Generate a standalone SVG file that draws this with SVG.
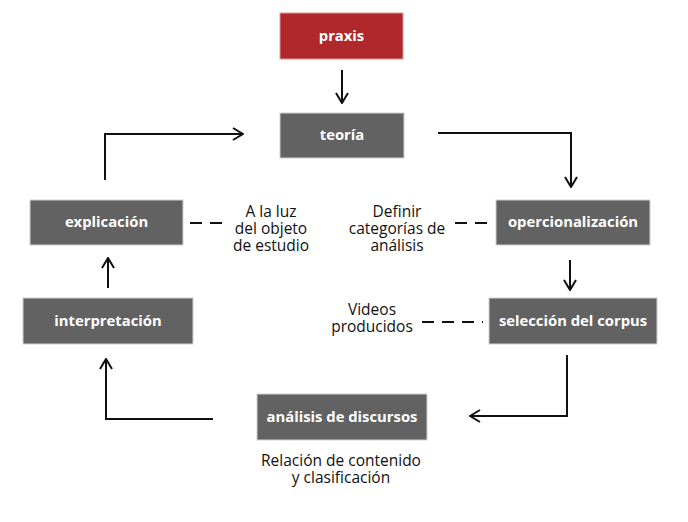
<svg xmlns="http://www.w3.org/2000/svg" width="688" height="522" viewBox="0 0 688 522">
<style>
.box{fill:#626262;stroke:#d0d0d0;stroke-width:1}
.red{fill:#b0282c;stroke:#d99;stroke-width:1}
.lbl{font-family:"Open Sans","Liberation Sans",sans-serif;font-size:14.8px;font-weight:bold;fill:#fff;text-anchor:middle}
.note{font-family:"Open Sans","Liberation Sans",sans-serif;font-size:15.5px;fill:#111;text-anchor:middle}
.ln{fill:none;stroke:#111;stroke-width:2}
.dash{fill:none;stroke:#111;stroke-width:2;stroke-dasharray:12,8}
</style>
<defs>
<marker id="ah" viewBox="0 0 12 14" refX="11" refY="7" markerWidth="12" markerHeight="14" markerUnits="userSpaceOnUse" orient="auto">
<path d="M1,1 L11,7 L1,13" fill="none" stroke="#111" stroke-width="2"/>
</marker>
</defs>
<g id="praxis"><rect class="red" x="280" y="13" width="123" height="46"/><text class="lbl" x="341.5" y="41">praxis</text></g>
<g id="teoria"><rect class="box" x="280" y="113" width="124" height="45"/><text class="lbl" x="342" y="140">teoría</text></g>
<g id="explicacion"><rect class="box" x="30" y="200" width="153" height="45"/><text class="lbl" x="106.5" y="227">explicación</text></g>
<g id="interpretacion"><rect class="box" x="23" y="298" width="170" height="46"/><text class="lbl" x="108" y="326">interpretación</text></g>
<g id="opercionalizacion"><rect class="box" x="496" y="200" width="154" height="45"/><text class="lbl" x="573" y="227">opercionalización</text></g>
<g id="seleccion"><rect class="box" x="489" y="298" width="168" height="46"/><text class="lbl" x="573" y="326">selección del corpus</text></g>
<g id="analisis"><rect class="box" x="257" y="394" width="170" height="46"/><text class="lbl" x="342" y="422">análisis de discursos</text></g>
<g id="notes">
<text class="note"><tspan x="271" y="217">A la luz</tspan><tspan x="271" y="234">del objeto</tspan><tspan x="271" y="251">de estudio</tspan></text>
<text class="note"><tspan x="397" y="217">Definir</tspan><tspan x="397" y="234">categorías de</tspan><tspan x="397" y="251">análisis</tspan></text>
<text class="note"><tspan x="372" y="315">Videos</tspan><tspan x="372" y="332">producidos</tspan></text>
<text class="note"><tspan x="341" y="466">Relación de contenido</tspan><tspan x="341" y="483">y clasificación</tspan></text>
</g>
<g id="connectors">
<path class="ln" d="M342,70 V103" marker-end="url(#ah)"/>
<path class="ln" d="M105,180 V134 H243" marker-end="url(#ah)"/>
<path class="ln" d="M438,133 H571 V187" marker-end="url(#ah)"/>
<path class="ln" d="M570,260 V290" marker-end="url(#ah)"/>
<path class="ln" d="M567,355 V416 H470" marker-end="url(#ah)"/>
<path class="ln" d="M213,419 H106 V359" marker-end="url(#ah)"/>
<path class="ln" d="M108,288 V258" marker-end="url(#ah)"/>
<path class="dash" d="M190,223 H222"/>
<path class="dash" d="M455,223 H487"/>
<path class="dash" d="M422,322 H483"/>
</g>
</svg>
